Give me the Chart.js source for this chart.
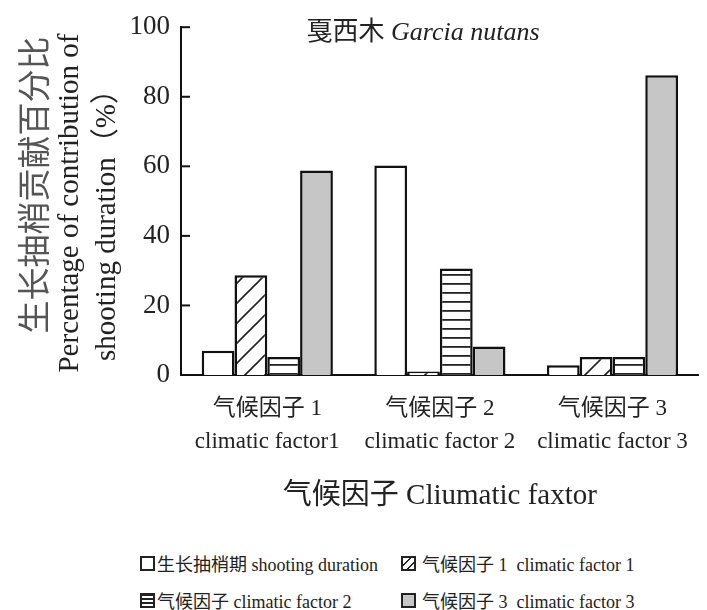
<!DOCTYPE html>
<html>
<head>
<meta charset="utf-8">
<script src="https://cdn.jsdelivr.net/npm/chart.js@4"></script>
<style>
  body { margin: 0; background: #fff; }
  #wrap { position: relative; width: 707px; height: 610px; }
  #legend { font: 18px "Liberation Serif", "Noto Sans CJK SC", serif; color: #222; }
  .item { position: absolute; display: flex; align-items: center; height: 24px; white-space: pre; }
  .sw { width: 15px; height: 15px; border: 2px solid #222; box-sizing: border-box; margin-right: 2px; }
  .sw.hatch { background: repeating-linear-gradient(-45deg, #fff 0 4px, #222 4px 5.5px); }
  .sw.hline { background: repeating-linear-gradient(0deg, #fff 0 2.5px, #222 2.5px 4px); }
  .sw.gray { background: #c6c6c6; }
</style>
</head>
<body>
<div id="wrap">
  <canvas id="chart" width="707" height="530"></canvas>
  <div id="legend"></div>
</div>
<script>
// Dados
const categories = [
  ["气候因子 1", "climatic factor1"],
  ["气候因子 2", "climatic factor 2"],
  ["气候因子 3", "climatic factor 3"]
];
const shootingDuration = [7, 60.2, 2.8];
const factor1 = [28.7, 1, 5.2];
const factor2 = [5.2, 30.6, 5.2];
const factor3 = [58.8, 8.2, 86.2];
const yTicks = [0, 20, 40, 60, 80, 100];
const legendLabels = [
  "生长抽梢期 shooting duration",
  "气候因子 1  climatic factor 1",
  "气候因子 climatic factor 2",
  "气候因子 3  climatic factor 3"
];

const serif = '"Liberation Serif", "Noto Sans CJK SC", serif';

// Padrões de preenchimento
function hatchPattern() {
  const s = 20;
  const c = document.createElement("canvas");
  c.width = s; c.height = s;
  const g = c.getContext("2d");
  g.fillStyle = "#fff";
  g.fillRect(0, 0, s, s);
  g.strokeStyle = "#222";
  g.lineWidth = 1.6;
  g.beginPath();
  g.moveTo(-2, s + 2); g.lineTo(s + 2, -2);
  g.moveTo(-2, 2); g.lineTo(2, -2);
  g.moveTo(s - 2, s + 2); g.lineTo(s + 2, s - 2);
  g.stroke();
  return g.createPattern(c, "repeat");
}

function hlinePattern() {
  const c = document.createElement("canvas");
  c.width = 10; c.height = 9;
  const g = c.getContext("2d");
  g.fillStyle = "#fff";
  g.fillRect(0, 0, 10, 9);
  g.fillStyle = "#222";
  g.fillRect(0, 4, 10, 1.8);
  return g.createPattern(c, "repeat");
}

// Textos extras: título interno, título do eixo y, marcas internas
const extraText = {
  id: "extraText",
  afterDraw(chart) {
    const { ctx, chartArea } = chart;
    const yScale = chart.scales.y;
    ctx.save();

    // marcas do eixo y para dentro
    ctx.strokeStyle = "#111";
    ctx.lineWidth = 2;
    yTicks.forEach(v => {
      const py = yScale.getPixelForValue(v);
      ctx.beginPath();
      ctx.moveTo(chartArea.left, py);
      ctx.lineTo(chartArea.left + 9, py);
      ctx.stroke();
    });

    // título interno
    ctx.fillStyle = "#222";
    ctx.textBaseline = "middle";
    const cn = "戛西木 ";
    const la = "Garcia nutans";
    ctx.font = "26px " + serif;
    const w1 = ctx.measureText(cn).width;
    ctx.font = "italic 26px " + serif;
    const w2 = ctx.measureText(la).width;
    let x = 423 - (w1 + w2) / 2;
    ctx.textAlign = "left";
    ctx.font = "26px " + serif;
    ctx.fillText(cn, x, 33);
    ctx.font = "italic 26px " + serif;
    ctx.fillText(la, x + w1, 33);

    // título do eixo y
    ctx.textAlign = "center";
    const lines = [
      { t: "生长抽梢贡献百分比", x: 33, y: 185, f: '33px "Noto Sans CJK SC", sans-serif', c: "#555" },
      { t: "Percentage of contribution of", x: 70, y: 203, f: "29px " + serif, c: "#222" },
      { t: "shooting duration（%）", x: 107, y: 218, f: "29px " + serif, c: "#222" }
    ];
    lines.forEach(l => {
      ctx.save();
      ctx.translate(l.x, l.y);
      ctx.rotate(-Math.PI / 2);
      ctx.font = l.f;
      ctx.fillStyle = l.c;
      ctx.fillText(l.t, 0, 0);
      ctx.restore();
    });
    ctx.restore();
  }
};

const ctx = document.getElementById("chart");

new Chart(ctx, {
  type: "bar",
  data: {
    labels: categories,
    datasets: [
      { label: legendLabels[0], data: shootingDuration, backgroundColor: "#fff" },
      { label: legendLabels[1], data: factor1, backgroundColor: hatchPattern() },
      { label: legendLabels[2], data: factor2, backgroundColor: hlinePattern() },
      { label: legendLabels[3], data: factor3, backgroundColor: "#c6c6c6" }
    ]
  },
  options: {
    responsive: false,
    animation: false,
    layout: { padding: { top: 21, right: 7, left: 0, bottom: 0 } },
    datasets: {
      bar: {
        borderColor: "#111",
        borderWidth: 2.5,
        barPercentage: 1,
        categoryPercentage: 0.76
      }
    },
    plugins: {
      legend: { display: false },
      tooltip: { enabled: false }
    },
    scales: {
      x: {
        grid: { display: false, drawTicks: false },
        border: { display: true, color: "#111", width: 2 },
        ticks: {
          color: "#222",
          font: { family: serif, size: 23, lineHeight: 1.43 },
          padding: 18,
          maxRotation: 0,
          autoSkip: false
        },
        title: {
          display: true,
          text: "气候因子 Cliumatic faxtor",
          color: "#222",
          font: { family: serif, size: 29, lineHeight: 1.2 },
          padding: { top: 0, bottom: 16 }
        },
        afterFit(scale) { scale.height = 155; }
      },
      y: {
        min: 0,
        max: 100,
        grid: { display: false, drawTicks: false },
        border: { display: true, color: "#111", width: 2 },
        ticks: {
          stepSize: 20,
          color: "#222",
          padding: 11,
          font: { family: serif, size: 27 }
        },
        afterFit(scale) { scale.width = 181; }
      }
    }
  },
  plugins: [extraText]
});

// Legenda em HTML
const legend = document.getElementById("legend");
const swClasses = ["", "hatch", "hline", "gray"];
const legendPos = [[140, 551], [401, 551], [140, 588], [401, 588]];
legendLabels.forEach((txt, i) => {
  const item = document.createElement("div");
  item.className = "item";
  item.style.left = legendPos[i][0] + "px";
  item.style.top = legendPos[i][1] + "px";
  const sw = document.createElement("span");
  sw.className = "sw " + swClasses[i];
  if (i % 2 === 1) sw.style.marginRight = "6px";
  const label = document.createElement("span");
  label.textContent = txt;
  item.appendChild(sw);
  item.appendChild(label);
  legend.appendChild(item);
});
</script>
</body>
</html>
